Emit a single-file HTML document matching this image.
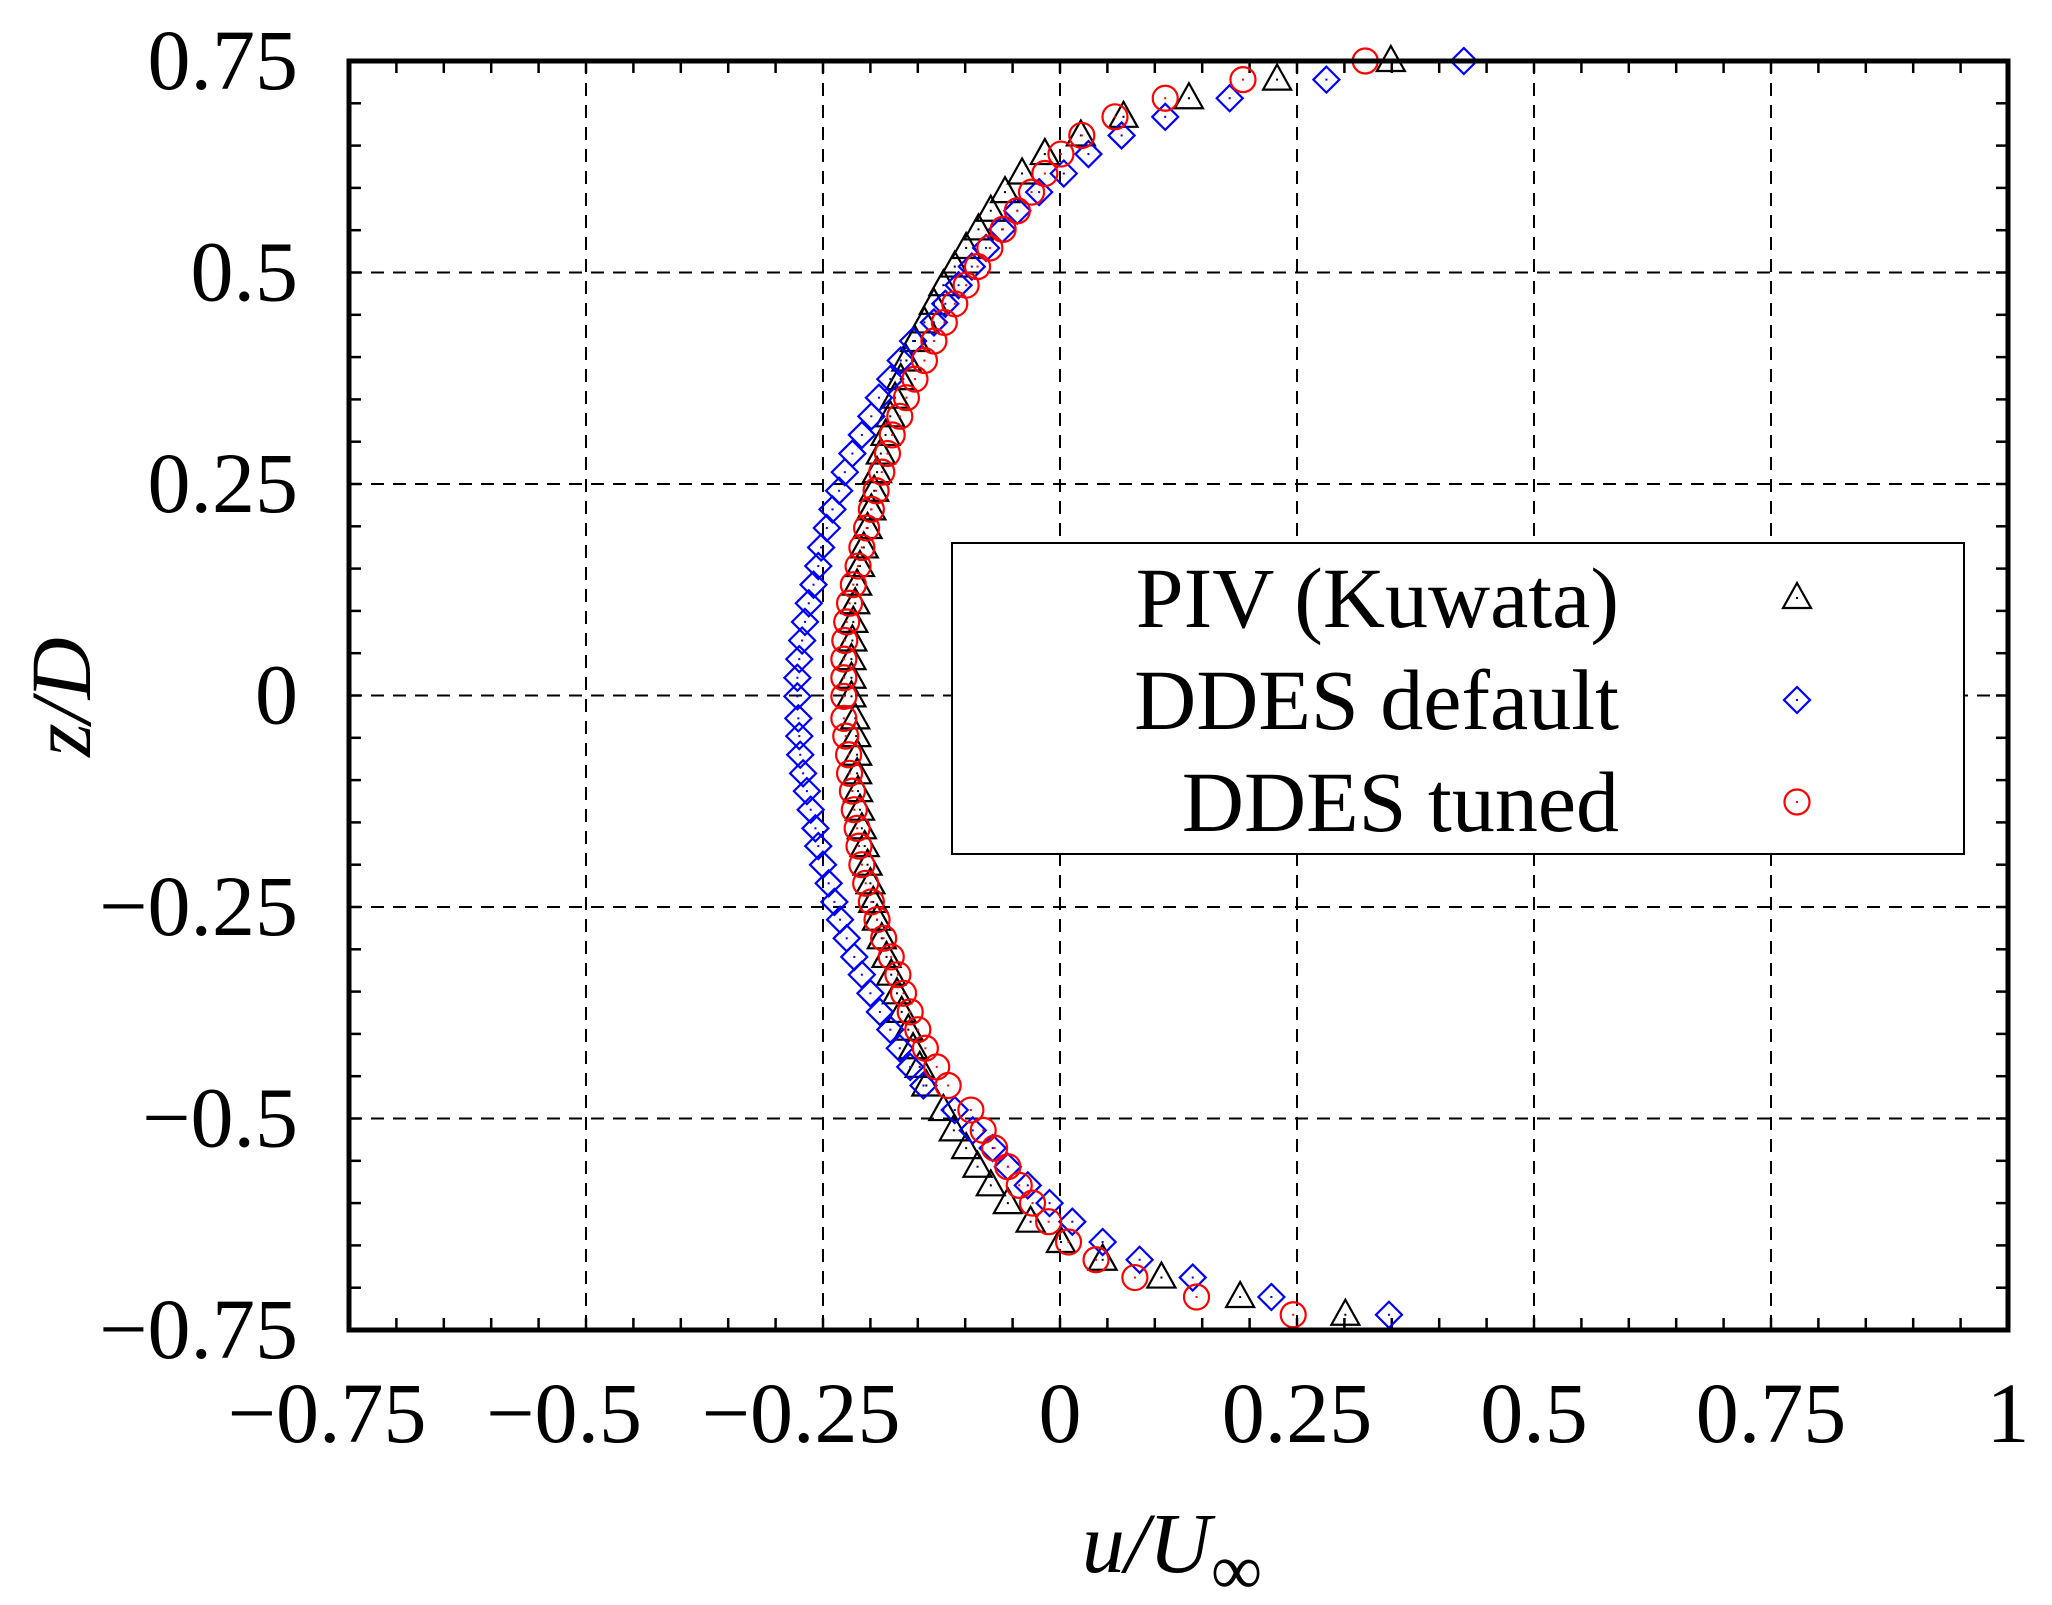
<!DOCTYPE html>
<html><head><meta charset="utf-8"><style>
html,body{margin:0;padding:0;background:#fff;}
svg{display:block;font-family:"Liberation Serif",serif;}
</style></head><body>
<svg id="chart" width="2052" height="1605" viewBox="0 0 2052 1605" xmlns="http://www.w3.org/2000/svg">
<g id="grid"></g>
<g id="ticks"></g>
<g id="series"></g>
<rect x="349" y="61" width="1659" height="1269" fill="none" stroke="#000" stroke-width="5"/>
<g id="legend">
<rect x="952" y="543" width="1012" height="311" fill="#fff" stroke="#000" stroke-width="2"/>
<text x="1619" y="627" text-anchor="end" font-size="86">PIV (Kuwata)</text>
<text x="1619" y="729" text-anchor="end" font-size="86">DDES default</text>
<text x="1619" y="831" text-anchor="end" font-size="86">DDES tuned</text>
</g>
<text x="1172" y="1572" text-anchor="middle" font-size="86" font-style="italic">u/U<tspan font-style="normal" dy="22" font-size="72">∞</tspan></text>
<text transform="translate(90,697) rotate(-90)" text-anchor="middle" font-size="86" font-style="italic">z/D</text>
</svg>
<script>
const xTicks = [-0.75, -0.5, -0.25, 0, 0.25, 0.5, 0.75, 1];
const xTickLabels = ["\u22120.75", "\u22120.5", "\u22120.25", "0", "0.25", "0.5", "0.75", "1"];
const yTicks = [0.75, 0.5, 0.25, 0, -0.25, -0.5, -0.75];
const yTickLabels = ["0.75", "0.5", "0.25", "0", "\u22120.25", "\u22120.5", "\u22120.75"];
const zPos = [0.75,0.728,0.706,0.684,0.662,0.64,0.617,0.595,0.573,0.551,0.529,0.507,0.485,0.463,0.441,0.419,0.396,0.374,0.352,0.33,0.308,0.286,0.264,0.242,0.22,0.198,0.175,0.153,0.131,0.109,0.087,0.065,0.043,0.021,-0.001,-0.027,-0.048,-0.07,-0.092,-0.113,-0.135,-0.157,-0.178,-0.2,-0.222,-0.244,-0.265,-0.287,-0.309,-0.33,-0.352,-0.374,-0.395,-0.417,-0.439,-0.461,-0.49,-0.514,-0.535,-0.557,-0.579,-0.6,-0.622,-0.646,-0.667,-0.688,-0.711,-0.732];
const uPIV = [0.349,0.229,0.136,0.067,0.022,-0.016,-0.040,-0.058,-0.073,-0.086,-0.099,-0.111,-0.123,-0.133,-0.143,-0.153,-0.162,-0.168,-0.174,-0.179,-0.184,-0.189,-0.193,-0.196,-0.199,-0.203,-0.207,-0.211,-0.214,-0.216,-0.218,-0.219,-0.220,-0.220,-0.220,
 -0.216,-0.215,-0.214,-0.214,-0.213,-0.211,-0.209,-0.206,-0.203,-0.200,-0.197,-0.193,-0.188,-0.183,-0.178,-0.172,-0.167,-0.160,-0.155,-0.148,-0.141,
 -0.123,-0.112,-0.099,-0.087,-0.073,-0.055,-0.031,0.001,0.045,0.107,0.190,0.301];
const uDefault = [0.426,0.281,0.179,0.111,0.065,0.030,0.004,-0.022,-0.045,-0.061,-0.078,-0.093,-0.107,-0.121,-0.133,-0.155,-0.168,-0.179,-0.191,-0.199,-0.209,-0.219,-0.227,-0.233,-0.240,-0.246,-0.252,-0.255,-0.260,-0.265,-0.269,-0.272,-0.275,-0.277,-0.277,
 -0.276,-0.275,-0.274,-0.271,-0.267,-0.263,-0.258,-0.255,-0.250,-0.244,-0.238,-0.232,-0.225,-0.217,-0.209,-0.200,-0.190,-0.179,-0.169,-0.158,-0.144,
 -0.111,-0.092,-0.071,-0.055,-0.034,-0.011,0.013,0.045,0.084,0.140,0.223,0.347];
const uTuned = [0.322,0.193,0.111,0.058,0.023,0.001,-0.016,-0.030,-0.045,-0.060,-0.074,-0.087,-0.099,-0.111,-0.122,-0.133,-0.143,-0.153,-0.162,-0.169,-0.177,-0.182,-0.188,-0.194,-0.199,-0.204,-0.209,-0.213,-0.218,-0.222,-0.225,-0.227,-0.228,-0.228,-0.228,
 -0.228,-0.226,-0.223,-0.222,-0.219,-0.217,-0.214,-0.212,-0.209,-0.205,-0.199,-0.193,-0.186,-0.178,-0.171,-0.165,-0.158,-0.150,-0.142,-0.130,-0.118,
 -0.094,-0.081,-0.069,-0.055,-0.043,-0.029,-0.012,0.009,0.038,0.079,0.144,0.246];

const L=349,R=2008,T=61,B=1330;
const X = u => L + (u + 0.75) / 1.75 * (R - L);
const Y = z => T + (0.75 - z) / 1.5 * (B - T);
const NS="http://www.w3.org/2000/svg";
function mk(tag, attrs, parent){const e=document.createElementNS(NS,tag);for(const k in attrs)e.setAttribute(k,attrs[k]);parent.appendChild(e);return e;}
const grid=document.getElementById('grid'), ticks=document.getElementById('ticks'), ser=document.getElementById('series'), svg=document.getElementById('chart');
xTicks.forEach((v,i)=>{
  const x=X(v);
  if(i>0&&i<xTicks.length-1){const g=mk('line',{x1:x,x2:x,y1:T,y2:B,stroke:'#000','stroke-width':2,'stroke-dasharray':'13 9'},grid);
  
  }
  const off = v<0 ? -22 : 0;
  const t=mk('text',{x:x+off,y:1442,'text-anchor':'middle','font-size':86},svg);t.textContent=xTickLabels[i];
  
  
});
yTicks.forEach((v,i)=>{
  const y=Y(v);
  if(i>0&&i<yTicks.length-1){const g=mk('line',{x1:L,x2:R,y1:y,y2:y,stroke:'#000','stroke-width':2,'stroke-dasharray':'13 9'},grid);
  
  }
  const t=mk('text',{x:298,y:y+28,'text-anchor':'end','font-size':86},svg);t.textContent=yTickLabels[i];
  
  
});
for(let k=0;k<=35;k++){const x=X(-0.75+k*0.05);
  mk('line',{x1:x,x2:x,y1:B,y2:B-12,stroke:'#000','stroke-width':2.5},ticks);
  mk('line',{x1:x,x2:x,y1:T,y2:T+12,stroke:'#000','stroke-width':2.5},ticks);}
for(let k=0;k<=30;k++){const y=Y(-0.75+k*0.05);
  mk('line',{x1:L,x2:L+12,y1:y,y2:y,stroke:'#000','stroke-width':2.5},ticks);
  mk('line',{x1:R,x2:R-12,y1:y,y2:y,stroke:'#000','stroke-width':2.5},ticks);}
function tri(x,y,c,p){const e=mk('path',{d:`M${x-14},${y+10}L${x+14},${y+10}L${x},${y-15}Z`,fill:'none',stroke:c,'stroke-width':2.2},p);mk('rect',{x:x-1,y:y-1,width:2,height:2,fill:c},p);return e;}
function dia(x,y,c,p){const e=mk('path',{d:`M${x},${y-13}L${x+13},${y}L${x},${y+13}L${x-13},${y}Z`,fill:'none',stroke:c,'stroke-width':2.2},p);mk('rect',{x:x-1,y:y-1,width:2,height:2,fill:c},p);return e;}
function cir(x,y,c,p){const e=mk('circle',{cx:x,cy:y,r:12.5,fill:'none',stroke:c,'stroke-width':2.2},p);mk('rect',{x:x-1,y:y-1,width:2,height:2,fill:c},p);return e;}
const gP=mk('g',{},ser);
const gD=mk('g',{},ser);
const gT=mk('g',{},ser);
uPIV.forEach((u,i)=>{const e=tri(X(u),Y(zPos[i]),'#000',gP);
  
  });
uDefault.forEach((u,i)=>{const e=dia(X(u),Y(zPos[i]),'#0000ff',gD);
  
  });
uTuned.forEach((u,i)=>{const e=cir(X(u),Y(zPos[i]),'#ff0000',gT);
  
  });
const lg=document.getElementById('legend');
const m1=tri(1797,598,'#000',lg);


const m2=dia(1797,700,'#0000ff',lg);


const m3=cir(1797,802,'#ff0000',lg);


</script>
</body></html>
